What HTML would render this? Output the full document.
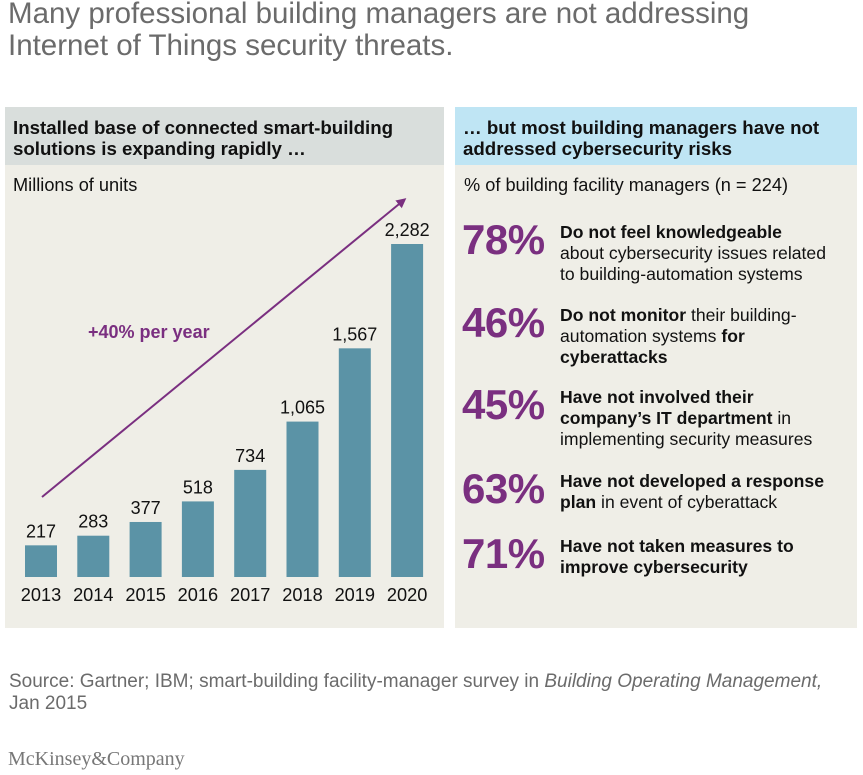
<!DOCTYPE html>
<html><head><meta charset="utf-8">
<style>
body{margin:0;width:863px;height:775px;background:#fff;font-family:"Liberation Sans",sans-serif;position:relative;overflow:hidden}
.abs{position:absolute}
#title{left:8px;top:-2px;font-size:29.5px;line-height:32px;color:#6b6b6b;white-space:nowrap}
.panel{background:#efeee7}
.hdr{font-weight:bold;font-size:18.7px;line-height:21px;color:#111;padding:10px 8px 0 8px;box-sizing:border-box;height:58px;white-space:nowrap}
.sub{font-size:18.2px;color:#111;white-space:nowrap}
.pct{font-weight:bold;font-size:42px;color:#7a2f80;left:462px;letter-spacing:-0.5px}
.txt{left:560px;font-size:17.6px;line-height:21px;color:#111;white-space:nowrap}
</style></head><body>
<div id="title" class="abs">Many professional building managers are not addressing<br>Internet of Things security threats.</div>

<div class="abs panel" style="left:5px;top:107px;width:439px;height:521px"></div>
<div class="abs hdr" style="left:5px;top:107px;width:439px;background:#d9dedc">Installed base of connected smart-building<br>solutions is expanding rapidly …</div>
<div class="abs sub" style="left:13px;top:175px">Millions of units</div>

<svg class="abs" style="left:0;top:0" width="863" height="775" id="chart">
<defs><marker id="ah" markerWidth="10" markerHeight="10" refX="7" refY="5" orient="auto" markerUnits="userSpaceOnUse"><path d="M0,0 L10,5 L0,10 Z" fill="#7a2f80"/></marker></defs>
<line x1="42" y1="497" x2="404" y2="200" stroke="#7a2f80" stroke-width="2" marker-end="url(#ah)"/>
<text x="88" y="338" font-size="18" font-weight="bold" fill="#7a2f80" font-family="Liberation Sans">+40% per year</text>
<g id="bars"></g>
</svg>

<div class="abs panel" style="left:455px;top:107px;width:402px;height:521px"></div>
<div class="abs hdr" style="left:455px;top:107px;width:402px;background:#bfe5f4">… but most building managers have not<br>addressed cybersecurity risks</div>
<div class="abs sub" style="left:464px;top:175px">% of building facility managers (n = 224)</div>

<div class="abs pct" style="top:216px">78%</div>
<div class="abs txt" style="top:222px"><b>Do not feel knowledgeable</b><br>about cybersecurity issues related<br>to building-automation systems</div>
<div class="abs pct" style="top:299px">46%</div>
<div class="abs txt" style="top:305px"><b>Do not monitor</b> their building-<br>automation systems <b>for</b><br><b>cyberattacks</b></div>
<div class="abs pct" style="top:381px">45%</div>
<div class="abs txt" style="top:387px"><b>Have not involved their</b><br><b>company’s IT department</b> in<br>implementing security measures</div>
<div class="abs pct" style="top:465px">63%</div>
<div class="abs txt" style="top:471px"><b>Have not developed a response</b><br><b>plan</b> in event of cyberattack</div>
<div class="abs pct" style="top:530px">71%</div>
<div class="abs txt" style="top:536px"><b>Have not taken measures to</b><br><b>improve cybersecurity</b></div>

<div class="abs" style="left:9px;top:671px;font-size:19px;line-height:22px;color:#6b6b6b;white-space:nowrap">Source: Gartner; IBM; smart-building facility-manager survey in <i>Building Operating Management,</i><br>Jan 2015</div>
<div class="abs" style="left:8px;top:748px;font-family:'Liberation Serif',serif;font-size:20px;color:#777">McKinsey&amp;Company</div>

<script>
const years=["2013","2014","2015","2016","2017","2018","2019","2020"];
const values=[217,283,377,518,734,1065,1567,2282];
const valueLabels=["217","283","377","518","734","1,065","1,567","2,282"];
const g=document.getElementById('bars');
const NS="http://www.w3.org/2000/svg";
const base=577, scale=333/2282;
function xC(i){return 41+i*52.3;}
function yV(v){return base-v*scale;}
years.forEach((yr,i)=>{
  const r=document.createElementNS(NS,'rect');
  r.setAttribute('x',xC(i)-16);r.setAttribute('width',32);
  r.setAttribute('y',yV(values[i]));r.setAttribute('height',base-yV(values[i]));
  r.setAttribute('fill','#5b93a6');
  
  
  g.appendChild(r);
  const t=document.createElementNS(NS,'text');
  t.setAttribute('x',xC(i));t.setAttribute('y',yV(values[i])-8);
  t.setAttribute('text-anchor','middle');t.setAttribute('font-size','18');t.setAttribute('fill','#111');
  t.setAttribute('font-family','Liberation Sans');
  t.textContent=valueLabels[i];
  
  
  g.appendChild(t);
  const l=document.createElementNS(NS,'text');
  l.setAttribute('x',xC(i));l.setAttribute('y',601);
  l.setAttribute('text-anchor','middle');l.setAttribute('font-size','18.2');l.setAttribute('fill','#111');
  l.setAttribute('font-family','Liberation Sans');
  l.textContent=yr;
  
  
  g.appendChild(l);
});
</script>
</body></html>
